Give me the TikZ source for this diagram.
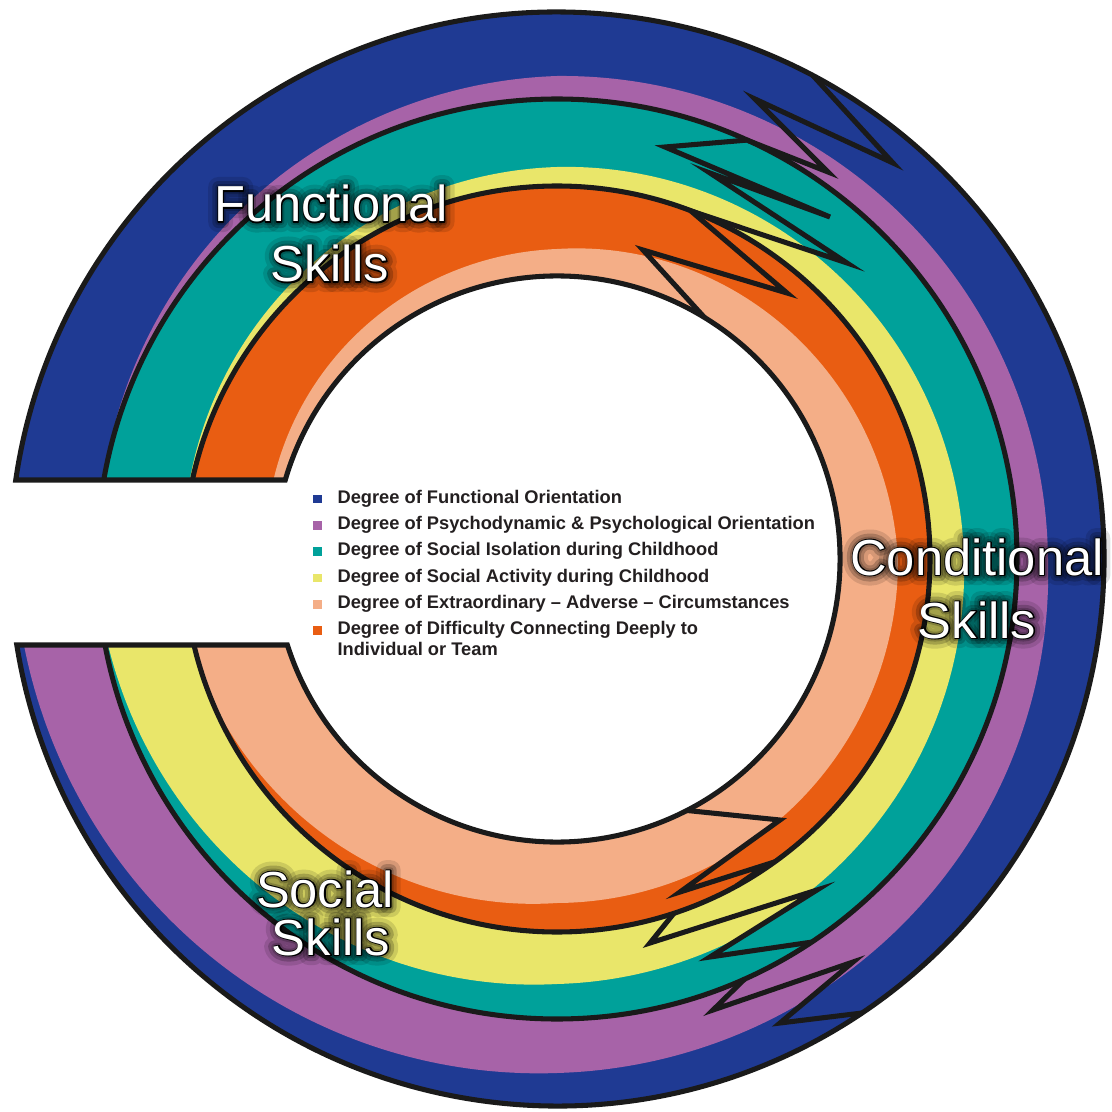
\documentclass[tikz,border=0pt]{standalone}
\usepackage{fontspec}
\setmainfont{Liberation Sans}
\newfontfamily\skillrim{Liberation Sans}[FakeBold=4]
\newfontfamily\skillhaloa{Liberation Sans}[FakeBold=12]
\newfontfamily\skillhalob{Liberation Sans}[FakeBold=24]
\newfontfamily\skillhaloc{Liberation Sans}[FakeBold=40]
\usetikzlibrary{calc}

\definecolor{ringblue}{HTML}{1F3A93}
\definecolor{ringpurple}{HTML}{A763A8}
\definecolor{ringteal}{HTML}{00A19A}
\definecolor{ringyellow}{HTML}{E9E66A}
\definecolor{ringorange}{HTML}{E95D12}
\definecolor{ringpeach}{HTML}{F4AE87}
\definecolor{inkline}{HTML}{1A1A1A}
\definecolor{legendtext}{HTML}{231F20}

% radius of the colour change inside each ring, \a = degrees clockwise from the top cut
\tikzset{declare function={
  outerdiv(\a) = 460 + ((\a<81) ? (23*\a/81) : ((\a<171) ? (23+8*(\a-81)/90) : ((\a<261) ? (31+23*(\a-171)/90) : (54+26*(\a-261)/81))));
  middiv(\a)   = 373 + ((\a<81) ? (2+17*\a/81) : ((\a<171) ? (19+15*(\a-81)/90) : ((\a<261) ? (34+18*(\a-171)/90) : (52+32*(\a-261)/79))));
  innerdiv(\a) = 283 + ((\a<81) ? (10+17*\a/81) : ((\a<171) ? (27+31*(\a-81)/90) : ((\a<261) ? (58+3*(\a-171)/90) : (61+31*(\a-261)/74))));
}}

\begin{document}
\begin{tikzpicture}[x=0.025cm, y=0.025cm,
    ringline/.style={draw=inkline, line width=3.6pt},
    zigzag/.style={draw=inkline, line width=3.6pt, line join=miter, miter limit=12},
    legend/.style={inner sep=0pt, text=legendtext, font=\fontsize{13}{15}\selectfont\bfseries},
    skilltext/.style={anchor=base, inner sep=0pt, text=white, font=\fontsize{36}{42}\selectfont},
    skillrimtext/.style={anchor=base, inner sep=0pt, text=black, line join=round, font=\fontsize{36}{42}\selectfont\skillrim},
    skillhalo/.style={anchor=base, inner sep=0pt, text=black, opacity=0.2, line join=round}]
    \useasboundingbox (-557,-553) rectangle (555,559);

    % rings, with the gap on the left cut away
    \begin{scope}
        \clip (-600,-600) -- (600,-600) -- (600,600) -- (-600,600) -- (-600,79) -- (-240,79) -- (-240,-86) -- (-600,-86) -- cycle;
        \fill[ringblue] (0,0) circle[radius=547];
        \fill[ringpurple] plot[domain=-10:355, samples=366, variable=\s] ({171-\s}:{min(outerdiv(\s),547)}) -- (0,0) -- cycle;
        \fill[ringteal] (0,0) circle[radius=460];
        \fill[ringyellow] plot[domain=-10:355, samples=366, variable=\s] ({171-\s}:{min(middiv(\s),460)}) -- (0,0) -- cycle;
        \fill[ringorange] (0,0) circle[radius=373];
        \fill[ringpeach] plot[domain=-10:355, samples=366, variable=\s] ({171-\s}:{min(innerdiv(\s),373)}) -- (0,0) -- cycle;
        \draw[ringline] (0,0) circle[radius=460];
        \draw[ringline] (0,0) circle[radius=373];
    \end{scope}
    \fill[white] (0,0) circle[radius=283];

    % outline with the two cuts
    \draw[ringline, line join=miter] ({180-asin(79/547)}:547)
        arc[start angle={180-asin(79/547)}, end angle={-180+asin(86/547)}, radius=547]
        -- ({-180+asin(86/283)}:283)
        arc[start angle={-180+asin(86/283)}, end angle={180-asin(79/283)}, radius=283] -- cycle;

    % zigzags, upper right
    \draw[zigzag] (62.1:547) -- (336,396) -- (198,460) -- (271,387) -- (65.6:460)
        -- (108,412) -- (273,342) -- (153,386) -- (290,296) -- (69:373)
        -- (230,266) -- (86,309) -- (58.6:283);
    % zigzags, lower right
    \draw[zigzag] (-62.7:283) -- (223,-261) -- (123,-333) -- (211,-305) -- (-61.2:373);
    \draw[zigzag] (-71.7:373) -- (93,-384) -- (260,-331) -- (153,-398) -- (-56.4:460);
    \draw[zigzag] (-65.9:460) -- (156,-451) -- (296,-403) -- (223,-464) -- (-56.1:547);

    % legend
    \foreach \col/\txt [count=\i from 0] in {ringblue/{Degree of Functional Orientation},
        ringpurple/{Degree of Psychodynamic \& Psychological Orientation},
        ringteal/{Degree of Social Isolation during Childhood},
        ringyellow/{Degree of Social Activity during Childhood},
        ringpeach/{Degree of Extraordinary -- Adverse -- Circumstances},
        ringorange/{Degree of Difficulty Connecting Deeply to}} {
        \fill[\col] (-244,{55.7-26.3*\i}) rectangle ++(9,8.5);
        \node[legend, anchor=base west] (leg\i) at (-219.7,{55.7-26.3*\i}) {\txt};
    }
    \node[legend, anchor=base west] (leg6) at (-219.7,-96) {Individual or Team};

    % skill labels: dark halo, black rim, white letters
    \foreach \txt/\px/\py in {Functional/-226/337, Skills/-227/277, Conditional/420/-16,
        Skills/420/-79, Social/-232/-348, Skills/-226/-396} {
        \node[skillhalo, opacity=0.12, font=\fontsize{36}{42}\selectfont\skillhaloc] at (\px,\py) {\txt};
        \node[skillhalo, font=\fontsize{36}{42}\selectfont\skillhalob] at (\px,\py) {\txt};
        \node[skillhalo, font=\fontsize{36}{42}\selectfont\skillhaloa] at (\px,\py) {\txt};
    }
    \foreach \name/\txt/\px/\py in {functional/Functional/-226/337, fskills/Skills/-227/277,
        conditional/Conditional/420/-16, cskills/Skills/420/-79,
        social/Social/-232/-348, sskills/Skills/-226/-396} {
        \node[skillrimtext] at (\px,\py) {\txt};
        \node[skilltext] (\name) at (\px,\py) {\txt};
    }
\end{tikzpicture}
\end{document}
